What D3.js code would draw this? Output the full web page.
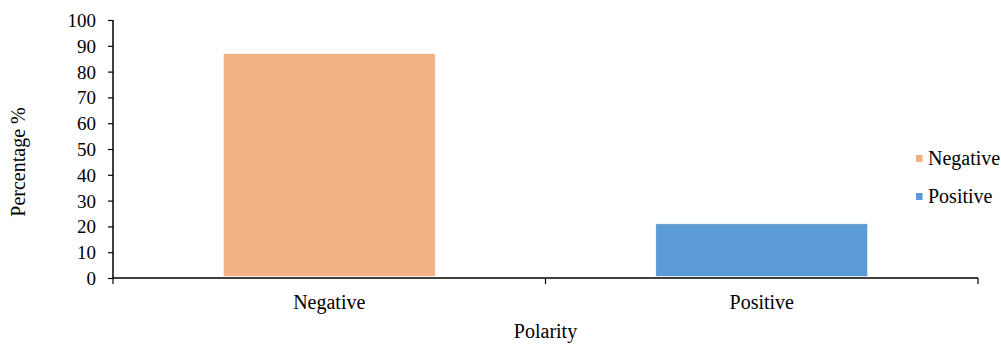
<!DOCTYPE html>
<html>
<head>
<meta charset="utf-8">
<script src="https://cdn.jsdelivr.net/npm/d3@7"></script>
<style>
  body { margin: 0; background: #fff; }
</style>
</head>
<body>
<svg id="chart" width="1001" height="344"></svg>
<script>
const categories = ["Negative", "Positive"];
const values = [87, 21];
const colors = ["#F4B183", "#5B9BD5"];
const yTicks = [0, 10, 20, 30, 40, 50, 60, 70, 80, 90, 100];

const svg = d3.select("#chart");
const margin = { left: 113, top: 20, right: 23, bottom: 66 };
const width = 1001 - margin.left - margin.right;
const height = 344 - margin.top - margin.bottom;
const fontFam = '"Liberation Serif"';
const tickFs = "19px";
const fs = "20px";

const g = svg.append("g").attr("transform", `translate(${margin.left},${margin.top})`);

const x = d3.scaleBand().domain(categories).range([0, width]).paddingInner(0.51).paddingOuter(0.255);
const y = d3.scaleLinear().domain([0, 100]).range([height, 0]);

// bars
g.selectAll(".bar")
  .data(categories)
  .enter().append("rect")
  .attr("class", "bar")
  .attr("x", d => x(d))
  .attr("width", x.bandwidth())
  .attr("y", (d, i) => y(values[i]))
  .attr("height", (d, i) => y(0) - y(values[i]) - 1.5)
  .attr("fill", (d, i) => colors[i])
  .attr("stroke", "#fff")
  .attr("stroke-width", 0.6);

// y axis
const yAxis = g.append("g")
  .call(d3.axisLeft(y).tickValues(yTicks).tickSize(5).tickPadding(12));
yAxis.select(".domain").attr("stroke", "#000").attr("stroke-width", 1.5).attr("d", `M0,0V${height}`);
yAxis.selectAll(".tick line").attr("stroke", "#000").attr("stroke-width", 1.2);
yAxis.selectAll("text")
  .style("font-size", tickFs).style("font-family", fontFam).attr("fill", "#000")
  .attr("dy", "0.34em");

// x axis with tick marks at band boundaries
const xAxisG = g.append("g").attr("transform", `translate(0,${height})`);
xAxisG.append("line")
  .attr("x1", 0).attr("x2", width).attr("y1", 0).attr("y2", 0)
  .attr("stroke", "#000").attr("stroke-width", 1.5);
const bounds = [0, width / 2, width];
xAxisG.selectAll(".xt")
  .data(bounds)
  .enter().append("line")
  .attr("x1", d => d).attr("x2", d => d)
  .attr("y1", 0).attr("y2", 6)
  .attr("stroke", "#000").attr("stroke-width", 1.2);
xAxisG.selectAll(".xl")
  .data(categories)
  .enter().append("text")
  .attr("x", d => x(d) + x.bandwidth() / 2)
  .attr("y", 31)
  .attr("text-anchor", "middle")
  .style("font-size", fs)
  .style("font-family", fontFam)
  .text(d => d);

// axis titles
svg.append("text")
  .attr("x", margin.left + width / 2)
  .attr("y", 338)
  .attr("text-anchor", "middle")
  .style("font-size", fs)
  .style("font-family", fontFam)
  .text("Polarity");

svg.append("text")
  .attr("transform", "translate(25,162) rotate(-90)")
  .attr("text-anchor", "middle")
  .style("font-size", fs)
  .style("font-family", fontFam)
  .text("Percentage %");

// legend
const legend = svg.append("g").attr("transform", "translate(916,165)");
categories.forEach((c, i) => {
  const row = legend.append("g").attr("transform", `translate(0,${i * 38})`);
  row.append("rect").attr("x", 0).attr("y", -10).attr("width", 6.5).attr("height", 7).attr("fill", colors[i]);
  row.append("text").attr("x", 12).attr("y", 0).style("font-size", fs).style("font-family", fontFam).text(c);
});
</script>
</body>
</html>
